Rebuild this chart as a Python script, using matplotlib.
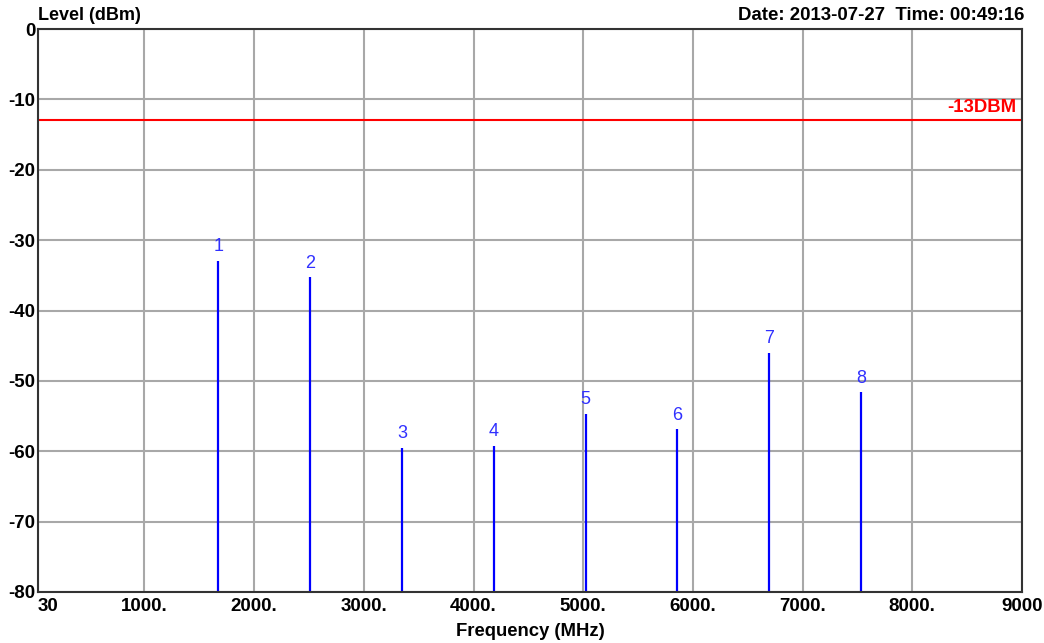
import matplotlib
matplotlib.use("Agg")
import matplotlib.pyplot as plt

# Data
freqs_mhz = [1674, 2511, 3348, 4185, 5022, 5859, 6696, 7533]
levels_dbm = [-32.9, -35.3, -59.5, -59.2, -54.7, -56.9, -46.0, -51.6]
marker_labels = ["1", "2", "3", "4", "5", "6", "7", "8"]
limit_dbm = -13
limit_label = "-13DBM"
xticks = [30, 1000, 2000, 3000, 4000, 5000, 6000, 7000, 8000, 9000]
xtick_labels = ["30", "1000.", "2000.", "3000.", "4000.", "5000.", "6000.", "7000.", "8000.", "9000"]
yticks = [0, -10, -20, -30, -40, -50, -60, -70, -80]
ytick_labels = ["0", "-10", "-20", "-30", "-40", "-50", "-60", "-70", "-80"]

plt.rcParams['font.family'] = ['Liberation Sans', 'DejaVu Sans']

W, H = 1044, 643
fig = plt.figure(figsize=(W / 100, H / 100), dpi=100)
ax = fig.add_axes([38 / W, 1 - 592 / H, (1022 - 38) / W, (592 - 29) / H])

ax.set_xlim(30, 9000)
ax.set_ylim(-80, 0)
ax.set_xticks(xticks)
ax.set_yticks(yticks)
ax.set_xticklabels(xtick_labels, fontsize=13.5, fontweight='bold')
ax.set_yticklabels(ytick_labels, fontsize=13.5, fontweight='bold')
ax.get_xticklabels()[0].set_horizontalalignment('left')
ax.tick_params(length=0)
ax.tick_params(axis='x', pad=4)
ax.tick_params(axis='y', pad=2)
ax.grid(True, color='#a8a8a8', linewidth=1.5)
ax.set_axisbelow(True)
for s in ax.spines.values():
    s.set_color('#333333')
    s.set_linewidth(1.5)

# limit line
ax.axhline(limit_dbm, color='#ff0000', linewidth=1.5)
ax.annotate(limit_label, (9000, limit_dbm), xytext=(-4, 3), textcoords='offset points',
            color='#ff0000', fontsize=13.3, fontweight='bold', ha='right', va='bottom')

# spurs
ax.vlines(freqs_mhz, -80, levels_dbm, color='#0000ff', linewidth=1.6)
for f, l, lab in zip(freqs_mhz, levels_dbm, marker_labels):
    ax.annotate(lab, (f, l), xytext=(0, 4), textcoords='offset points',
                ha='center', va='bottom', color='#3030ff', fontsize=13)

fig.text(38 / W, 1 - 16 / H, "Level (dBm)", fontsize=13, fontweight='bold',
         ha='left', va='center')
fig.text(1024 / W, 1 - 15 / H, "Date: 2013-07-27  Time: 00:49:16", fontsize=13.4,
         fontweight='bold', ha='right', va='center')
fig.text(530 / W, 1 - 631 / H, "Frequency (MHz)", fontsize=13.3, fontweight='bold',
         ha='center', va='center')

fig.savefig("out.png", dpi=100, facecolor='white')
